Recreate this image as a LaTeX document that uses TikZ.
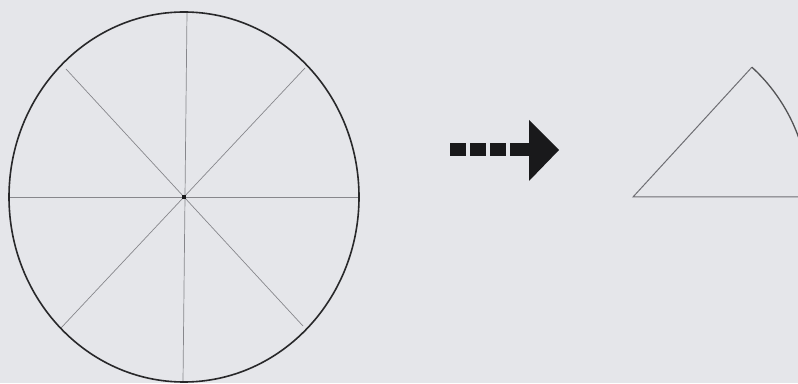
\documentclass[tikz,border=0pt]{standalone}
\usetikzlibrary{calc}
\definecolor{paper}{RGB}{229,230,234}
\definecolor{rimc}{RGB}{40,40,42}
\definecolor{spokec}{RGB}{135,135,140}
\definecolor{sectc}{RGB}{110,110,115}
\definecolor{inkc}{RGB}{25,25,27}
\tikzset{
  rim/.style={draw=rimc, line width=1.6pt},
  spoke/.style={draw=spokec, line width=0.7pt},
  sectorline/.style={draw=sectc, line width=1pt},
  dashbox/.style={fill=inkc},
}
\begin{document}
\begin{tikzpicture}[x=1pt,y=1pt]
  \fill[paper] (0,0) rectangle (798,383);
  \useasboundingbox (0,0) rectangle (798,383);
  \clip (0,0) rectangle (798,383);
  % circle and spokes
  \coordinate (c) at (184,186);
  \coordinate (top) at (187,371);
  \coordinate (bot) at (183,1);
  \coordinate (lft) at (9,186);
  \coordinate (rgt) at (358,186);
  \coordinate (ne) at (305,315);
  \coordinate (sw) at (61,55);
  \coordinate (nw) at (66,314);
  \coordinate (se) at (303,57);
  \draw[spoke] (top) -- (bot);
  \draw[spoke] (lft) -- (rgt);
  \draw[spoke] (ne) -- (sw);
  \draw[spoke] (nw) -- (se);
  \draw[rim] (c) ellipse [x radius=175pt, y radius=185pt];
  \fill[inkc] ($(c)+(-2,-2)$) rectangle ($(c)+(2,2)$);
  % dashed arrow
  \fill[dashbox] (450,227) rectangle (466,240);
  \fill[dashbox] (470,227) rectangle (486,240);
  \fill[dashbox] (490,227) rectangle (506,240);
  \fill[dashbox] (510,227) rectangle (531,240);
  \coordinate (tip) at (559,233);
  \fill[inkc] (529,263) -- (tip) -- (529,202) -- cycle;
  % sector
  \coordinate (sc) at (633,186);
  \coordinate (apex) at (751.9,315.8);
  \draw[sectorline] (apex) -- (sc) -- (809,186);
  \draw[sectorline, draw=rimc!80!white, line width=1.3pt] (apex) arc[start angle=47.5, end angle=0, radius=176pt];
\end{tikzpicture}
\end{document}
